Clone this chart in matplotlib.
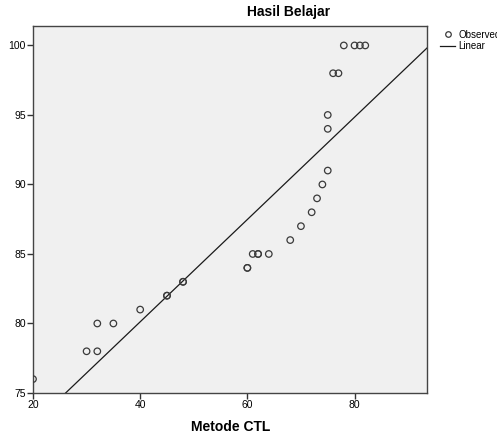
import numpy as np
import matplotlib.pyplot as plt
from matplotlib.lines import Line2D

plt.rcParams['font.family'] = ['Liberation Sans', 'DejaVu Sans']

# Metode CTL vs Hasil Belajar
x_ctl = [20, 30, 32, 32, 35, 40, 45, 45, 48, 48, 60, 60, 61, 62, 62, 64,
         68, 70, 72, 73, 74, 75, 75, 75, 76, 77, 78, 80, 81, 82]
y_hasil = [76, 78, 78, 80, 80, 81, 82, 82, 83, 83, 84, 84, 85, 85, 85, 85,
           86, 87, 88, 89, 90, 91, 94, 95, 98, 98, 100, 100, 100, 100]
# linear fit
intercept = 65.4
slope = 0.368

x_ticks = [20, 40, 60, 80]
y_ticks = [75, 80, 85, 90, 95, 100]

fig = plt.figure(figsize=(4.97, 4.33), dpi=100)
ax = fig.add_axes([0.0664, 0.0924, 0.7936, 0.8476])
ax.set_facecolor('#f0f0f0')

ax.scatter(x_ctl, y_hasil, s=22, facecolors='none', edgecolors='#3a3a3a', linewidths=0.9, zorder=3)
xl = np.array([20, 93.6])
ax.plot(xl, intercept + slope * xl, color='#1a1a1a', lw=0.9, zorder=2)

ax.set_xlim(20, 93.6)
ax.set_ylim(75, 101.4)
ax.set_xticks(x_ticks)
ax.set_yticks(y_ticks)
ax.tick_params(labelsize=7.5, length=4, width=1, color='#333333', pad=1)
for s in ax.spines.values():
    s.set_color('#444444')
    s.set_linewidth(1)

ax.set_xlabel('Metode CTL', fontsize=10, fontweight='bold', labelpad=7)
fig.text(0.58, 0.972, 'Hasil Belajar', fontsize=10, fontweight='bold', ha='center', va='center')

handles = [Line2D([], [], marker='o', ls='none', mfc='none', mec='#3a3a3a', ms=4, mew=0.9),
           Line2D([], [], color='#1a1a1a', lw=0.9)]
fig.legend(handles, ['Observed', 'Linear'], loc='upper left', bbox_to_anchor=(0.877, 0.94),
           frameon=False, fontsize=7, handlelength=1.6, handletextpad=0.3,
           labelspacing=0.15, borderaxespad=0)

fig.savefig('out.png', dpi=100)
